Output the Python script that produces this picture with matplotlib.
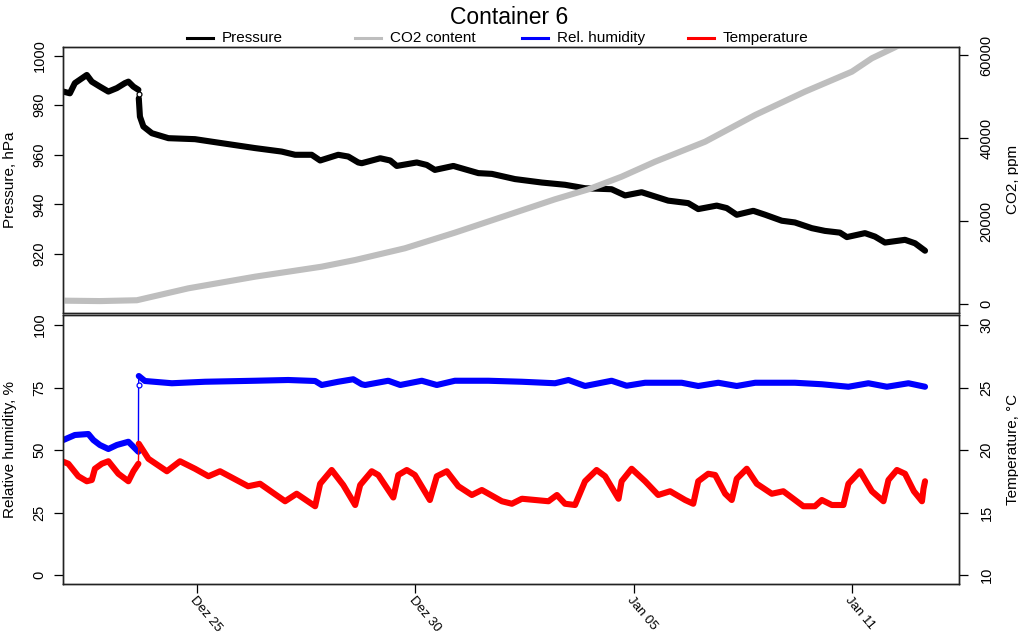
import numpy as np
import matplotlib.pyplot as plt
from matplotlib.lines import Line2D

plt.rcParams['font.family'] = ['Liberation Sans', 'DejaVu Sans']

# time axis: days after Dez 25 00:00
x_ticks = [0, 17 / 3, 34 / 3, 17]
x_labels = ['Dez 25', 'Dez 30', 'Jan 05', 'Jan 11']
JUMP = -1.53  # container closed here

t_pres = [-3.48, -3.31, -3.18, -2.87, -2.74, -2.53, -2.31, -2.09, -1.88, -1.79,
          -1.66, -1.53, -1.525, -1.52, -1.49, -1.40, -1.18, -0.75, -0.06, 0.63,
          1.50, 2.19, 2.54, 2.97, 3.19, 3.66, 3.92, 4.18, 4.27, 4.75,
          5.01, 5.18, 5.70, 5.96, 6.17, 6.65, 7.30, 7.65, 8.25, 8.95,
          9.55, 10.07, 10.76, 11.11, 11.54, 12.23, 12.75, 13.01, 13.49, 13.75,
          14.01, 14.44, 14.75, 15.18, 15.52, 15.96, 16.30, 16.69, 16.87, 17.34,
          17.60, 17.86, 18.38, 18.64, 18.90]
pres = [985.5, 984.8, 988.9, 992.2, 989.5, 987.5, 985.5, 986.9, 988.9, 989.5,
        987.5, 986.2, 984.5, 982.8, 975.4, 971.4, 968.7, 966.7, 966.3, 964.7,
        962.7, 961.3, 960.0, 960.0, 957.7, 960.0, 959.3, 956.9, 956.6, 958.6,
        957.7, 955.5, 956.9, 955.9, 953.9, 955.5, 952.6, 952.3, 950.2, 948.8,
        947.9, 946.5, 946.1, 943.6, 944.9, 941.5, 940.5, 938.1, 939.5, 938.5,
        935.8, 937.4, 935.8, 933.4, 932.7, 930.4, 929.3, 928.6, 926.8, 928.4,
        927.0, 924.6, 925.7, 924.3, 921.3]

t_co2 = [-3.48, -2.53, -1.57, -0.23, 1.50, 3.23, 4.10, 5.39, 6.69, 7.99, 9.29,
         10.16, 11.02, 11.89, 13.19, 14.49, 15.78, 17.00, 17.52, 18.12, 18.90]
co2 = [800, 700, 900, 3780, 6580, 8990, 10600, 13420, 17190, 21210, 25230,
       27640, 30680, 34290, 39110, 45550, 51160, 55980, 59210, 61870, 66000]

t_rh = [-3.48, -3.18, -2.83, -2.70, -2.53, -2.31, -2.09, -1.79, -1.66, -1.53,
        -1.525, -1.52, -1.36, -0.66, 0.20, 1.50, 2.36, 3.06, 3.23, 3.66,
        4.05, 4.27, 4.36, 4.96, 5.27, 5.83, 6.22, 6.69, 7.56, 8.43,
        9.29, 9.64, 10.07, 10.76, 11.15, 11.63, 12.58, 13.01, 13.53, 14.01,
        14.49, 15.52, 16.22, 16.91, 17.43, 17.91, 18.47, 18.90]
rh = [54.0, 56.0, 56.4, 54.0, 52.0, 50.4, 52.0, 53.3, 51.3, 49.3,
      76.0, 79.6, 77.6, 76.7, 77.3, 77.7, 78.0, 77.6, 76.0, 77.3,
      78.3, 76.3, 76.0, 77.7, 76.0, 77.7, 76.0, 77.7, 77.7, 77.3,
      76.7, 78.0, 75.6, 77.7, 75.7, 76.9, 76.9, 75.6, 76.9, 75.6,
      76.9, 76.9, 76.3, 75.3, 76.7, 75.3, 76.7, 75.3]

t_temp = [-3.48, -3.35, -3.09, -2.87, -2.74, -2.66, -2.48, -2.31, -2.05, -1.79,
          -1.66, -1.53, -1.52, -1.27, -0.79, -0.45, -0.06, 0.29, 0.59, 1.32,
          1.63, 2.28, 2.58, 3.06, 3.19, 3.49, 3.79, 4.10, 4.23, 4.53,
          4.70, 5.09, 5.22, 5.44, 5.65, 6.04, 6.22, 6.48, 6.78, 7.13,
          7.39, 7.91, 8.17, 8.43, 9.12, 9.34, 9.55, 9.81, 10.07, 10.37,
          10.59, 10.94, 11.02, 11.28, 11.63, 11.97, 12.28, 12.67, 12.88, 13.01,
          13.27, 13.45, 13.71, 13.88, 14.01, 14.27, 14.53, 14.92, 15.22, 15.74,
          16.04, 16.22, 16.48, 16.78, 16.91, 17.21, 17.52, 17.82, 17.95, 18.17,
          18.38, 18.61, 18.82, 18.86, 18.90]
temp = [19.06, 18.9, 17.9, 17.5, 17.6, 18.5, 18.9, 19.1, 18.1, 17.5,
        18.3, 18.9, 20.5, 19.3, 18.3, 19.1, 18.5, 17.9, 18.3, 17.1,
        17.3, 15.9, 16.5, 15.5, 17.3, 18.4, 17.2, 15.6, 17.2, 18.3,
        18.0, 16.2, 18.0, 18.4, 18.0, 16.0, 17.9, 18.3, 17.1, 16.4,
        16.8, 15.9, 15.7, 16.1, 15.9, 16.4, 15.7, 15.6, 17.5, 18.4,
        17.9, 16.1, 17.5, 18.5, 17.5, 16.4, 16.7, 16.0, 15.7, 17.5,
        18.1, 18.0, 16.5, 16.0, 17.7, 18.5, 17.3, 16.5, 16.7, 15.5,
        15.5, 16.0, 15.6, 15.6, 17.3, 18.3, 16.7, 15.9, 17.6, 18.4,
        18.1, 16.7, 15.9, 16.9, 17.5]

GRAY = '#bebebe'
LW = 4.4
W, H = 1018, 637


def box(l, t, r, b):
    return [l / W, 1 - b / H, (r - l) / W, (b - t) / H]


def draw(ax, t, y, color, split=True):
    t = np.asarray(t)
    y = np.asarray(y)
    if not split:
        ax.plot(t, y, color=color, lw=LW, solid_capstyle='round', solid_joinstyle='round')
        return
    ax.plot(t, y, color=color, lw=1)
    pre = t <= JUMP
    post = t > JUMP + 0.007
    mid = ~pre & ~post
    for m in (pre, post):
        ax.plot(t[m], y[m], color=color, lw=LW, solid_capstyle='round', solid_joinstyle='round')
    if mid.any():
        ax.plot(t[mid], y[mid], 'o', mfc='white', mec=color, ms=3.5, mew=0.9)


def style(ax, side):
    for s in ax.spines.values():
        s.set_linewidth(1.0)
        s.set_color('#222222')
    ax.tick_params(axis='y', labelrotation=90, length=6.5, labelsize=10.5,
                   pad=5 if side == 'left' else 8, width=0.9)
    for lab in ax.get_yticklabels():
        lab.set_va('center')


fig = plt.figure(figsize=(10.18, 6.37), dpi=100)

ax1 = fig.add_axes(box(62.7, 46.7, 959.3, 312.7))
ax2 = ax1.twinx()
ax3 = fig.add_axes(box(62.7, 315, 959.3, 584))
ax4 = ax3.twinx()

draw(ax1, t_pres, pres, 'black')
draw(ax2, t_co2, co2, GRAY, split=False)
draw(ax3, t_rh, rh, 'blue')
draw(ax4, t_temp, temp, 'red')

xlim = (-3.496, 19.79)
for ax in (ax1, ax2, ax3, ax4):
    ax.set_xlim(*xlim)

ax1.set_ylim(896.3, 1003.6)
ax1.set_yticks([920, 940, 960, 980, 1000])
ax2.set_ylim(-2100, 62000)
ax2.set_yticks([0, 20000, 40000, 60000])
ax3.set_ylim(-3.6, 104)
ax3.set_yticks([0, 25, 50, 75, 100])
ax4.set_ylim(9.28, 30.8)
ax4.set_yticks([10, 15, 20, 25, 30])

ax1.tick_params(axis='x', bottom=False, labelbottom=False)
ax2.tick_params(axis='x', bottom=False, labelbottom=False)
ax4.tick_params(axis='x', bottom=False, labelbottom=False)

style(ax1, 'left')
style(ax2, 'right')
style(ax3, 'left')
style(ax4, 'right')

ax3.set_xticks(x_ticks)
ax3.set_xticklabels(x_labels, rotation=-50, ha='left', va='top',
                    rotation_mode='anchor', fontsize=9.5)
ax3.tick_params(axis='x', length=6.5, pad=1, width=0.9)

ax1.set_ylabel('Pressure, hPa', fontsize=11)
ax2.set_ylabel('CO2, ppm', fontsize=11)
ax3.set_ylabel('Relative humidity, %', fontsize=11)
ax4.set_ylabel('Temperature, °C', fontsize=11)
for ax in (ax1, ax3):
    ax.yaxis.set_label_coords(-0.051, 0.5)
for ax in (ax2, ax4):
    ax.yaxis.set_label_coords(1.052, 0.5)

fig.text(0.5, 1 - 17 / H, 'Container 6', ha='center', va='center', fontsize=16.5)

legend_names = ['Pressure', 'CO2 content', 'Rel. humidity', 'Temperature']
legend_colors = ['black', GRAY, 'blue', 'red']
legend_x = [187, 355, 522, 688]
ly = 1 - 38 / H
for name, col, x0 in zip(legend_names, legend_colors, legend_x):
    fig.add_artist(Line2D([x0 / W, (x0 + 26) / W], [ly, ly], color=col, lw=2.2))
    fig.text((x0 + 35) / W, ly, name, ha='left', va='center', fontsize=11)

fig.savefig('out.png', dpi=100)
